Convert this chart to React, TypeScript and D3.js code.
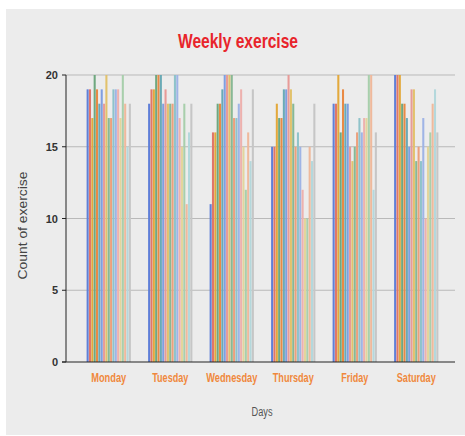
import React from "react";
import * as d3 from "d3";

const days = ["Monday", "Tuesday", "Wednesday", "Thursday", "Friday", "Saturday"];
// widths of the condensed day labels in the picture
const dayLabelWidths = [35, 36, 51, 41, 27, 39];

// one value per person (19 people)
const monday = [19, 19, 17, 20, 19, 18, 19, 18, 20, 17, 17, 19, 19, 19, 17, 20, 18, 15, 18];
const tuesday = [18, 19, 19, 20, 20, 20, 18, 19, 18, 18, 18, 20, 20, 17, 15, 18, 11, 16, 18];
const wednesday = [11, 16, 16, 18, 18, 19, 20, 20, 20, 20, 17, 17, 18, 19, 15, 12, 16, 14, 19];
const thursday = [15, 15, 18, 17, 17, 19, 19, 20, 19, 18, 15, 16, 15, 12, 10, 10, 15, 14, 18];
const friday = [18, 18, 20, 16, 19, 18, 18, 15, 14, 15, 16, 17, 16, 17, 17, 20, 20, 12, 16];
const saturday = [20, 20, 20, 18, 18, 17, 15, 19, 19, 14, 15, 14, 17, 10, 15, 16, 18, 19, 16];

const values = [monday, tuesday, wednesday, thursday, friday, saturday];
const yTicks = [0, 5, 10, 15, 20];

const palette = [
  "#5f7fd8", "#e0766a", "#e3a93c", "#6fa87f", "#e98a45", "#6aaab6",
  "#809fe0", "#e79b98", "#e2c26c", "#88b894", "#eca07c", "#8fc3ca",
  "#9fb4e6", "#edb1ae", "#e3d59c", "#a8cfac", "#efb99c", "#b4d8dc",
  "#c6c6c6",
];

const W = 465;
const H = 436;
const left = 66;
const right = 455;
const top = 75;
const bottom = 362;

export default function App() {
  const x = d3.scaleBand<string>().domain(days).range([78, 447]).paddingInner(0.28).paddingOuter(0.14);
  const inner = d3
    .scaleBand<number>()
    .domain(d3.range(monday.length))
    .range([0, x.bandwidth()])
    .paddingInner(0.12);
  const y = d3.scaleLinear().domain([0, 20]).range([bottom, top]);

  return (
    <div style={{ position: "absolute", left: 0, top: 0 }}>
      <svg width={W} height={H} style={{ display: "block" }}>
        <rect x={6} y={9} width={W - 6} height={H - 10} fill="#ececec" />
        <text
          x={238}
          y={48}
          textAnchor="middle"
          fill="#e8242b"
          fontFamily="'Liberation Sans', Arial, sans-serif"
          fontWeight="bold"
          fontSize={21}
          textLength={120}
          lengthAdjust="spacingAndGlyphs"
        >
          Weekly exercise
        </text>

        {/* grid */}
        {yTicks.filter((t) => t > 0).map((t) => (
          <line key={t} x1={left} x2={right} y1={y(t)} y2={y(t)} stroke="#b9b9b9" strokeWidth={1} />
        ))}

        {/* bars */}
        {days.map((day, di) =>
          values[di].map((v, si) => (
            <rect
              key={day + si}
              x={(x(day) ?? 0) + (inner(si) ?? 0)}
              y={y(v)}
              width={inner.bandwidth()}
              height={bottom - y(v)}
              fill={palette[si]}
            />
          ))
        )}

        {/* axes */}
        <line x1={left} x2={left} y1={top} y2={bottom} stroke="#222" strokeWidth={1} />
        <line x1={left - 4} x2={right} y1={bottom} y2={bottom} stroke="#222" strokeWidth={1} />
        {yTicks.map((t) => (
          <g key={t}>
            <line x1={left - 4} x2={left} y1={y(t)} y2={y(t)} stroke="#222" />
            <text
              x={left - 8}
              y={y(t) + 4}
              textAnchor="end"
              fontFamily="'Liberation Sans', Arial, sans-serif"
              fontWeight="bold"
              fontSize={11}
              fill="#333"
            >
              {t}
            </text>
          </g>
        ))}
        {days.map((day, i) => (
          <text
            key={day}
            x={(x(day) ?? 0) + x.bandwidth() / 2}
            y={382}
            textAnchor="middle"
            fontFamily="'Liberation Sans', Arial, sans-serif"
            fontWeight="bold"
            fontSize={12}
            fill="#f0883c"
            textLength={dayLabelWidths[i]}
            lengthAdjust="spacingAndGlyphs"
          >
            {day}
          </text>
        ))}

        <text
          x={262}
          y={416}
          textAnchor="middle"
          fontFamily="'Liberation Sans', Arial, sans-serif"
          fontSize={12}
          fill="#555"
          textLength={21}
          lengthAdjust="spacingAndGlyphs"
        >
          Days
        </text>
        <text
          transform={`translate(27,${(top + bottom) / 2 + 7}) rotate(-90)`}
          textAnchor="middle"
          fontFamily="'Liberation Sans', Arial, sans-serif"
          fontSize={12}
          fill="#444"
          textLength={108}
          lengthAdjust="spacingAndGlyphs"
        >
          Count of exercise
        </text>
      </svg>
    </div>
  );
}
